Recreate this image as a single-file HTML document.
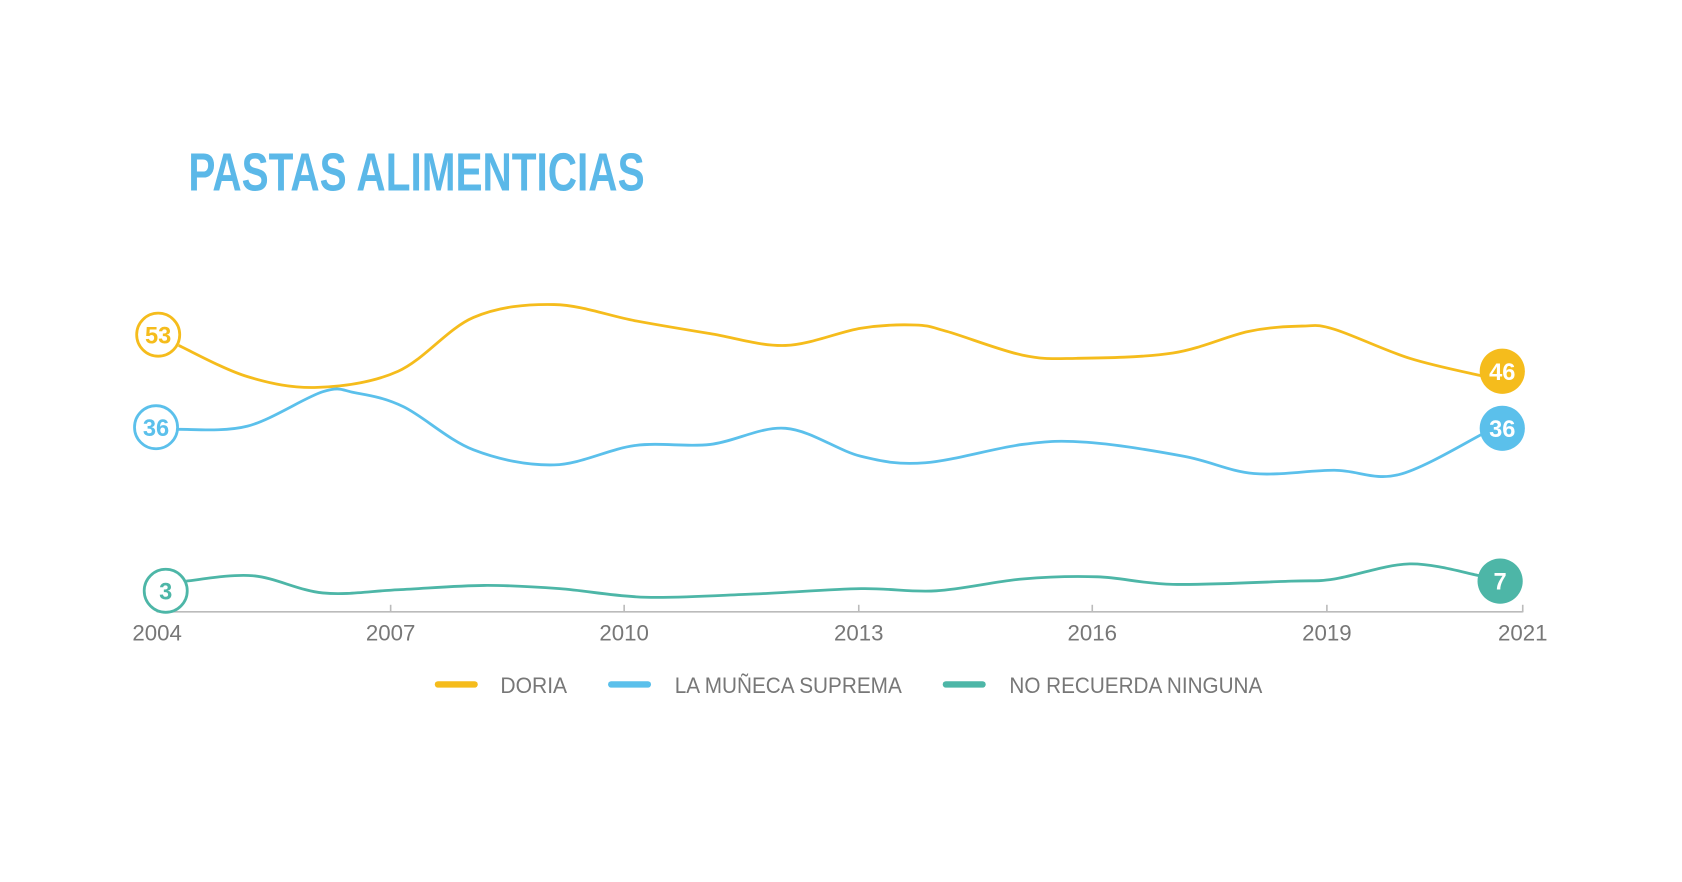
<!DOCTYPE html>
<html><head><meta charset="utf-8"><style>
html,body{margin:0;padding:0;background:#fff;}
svg{display:block;}
text{font-family:"Liberation Sans Narrow","Liberation Sans",sans-serif;}
</style></head><body>
<svg id="s" width="1682" height="882" viewBox="0 0 1563 819.6" xmlns="http://www.w3.org/2000/svg">
<text x="175" y="177" font-size="50" font-weight="bold" fill="#5BB8E8" textLength="424" lengthAdjust="spacingAndGlyphs">PASTAS ALIMENTICIAS</text>
<path id="pY" fill="none" stroke="#F5BC1C" stroke-width="2.6"/>
<path id="pB" fill="none" stroke="#5BC0EB" stroke-width="2.6"/>
<path id="pT" fill="none" stroke="#4DB6A7" stroke-width="2.6"/>
<line x1="146" y1="568.5" x2="1415" y2="568.5" stroke="#bbb" stroke-width="1.5"/>
<g stroke="#bbb" stroke-width="1.5">
<line x1="146" y1="562" x2="146" y2="569"/><line x1="363" y1="562" x2="363" y2="569"/><line x1="580" y1="562" x2="580" y2="569"/><line x1="798" y1="562" x2="798" y2="569"/><line x1="1015" y1="562" x2="1015" y2="569"/><line x1="1233" y1="562" x2="1233" y2="569"/><line x1="1415" y1="562" x2="1415" y2="569"/>
</g>
<g font-size="21" fill="#777" text-anchor="middle">
<text x="146" y="595" textLength="46" lengthAdjust="spacingAndGlyphs">2004</text>
<text x="363" y="595" textLength="46" lengthAdjust="spacingAndGlyphs">2007</text>
<text x="580" y="595" textLength="46" lengthAdjust="spacingAndGlyphs">2010</text>
<text x="798" y="595" textLength="46" lengthAdjust="spacingAndGlyphs">2013</text>
<text x="1015" y="595" textLength="46" lengthAdjust="spacingAndGlyphs">2016</text>
<text x="1233" y="595" textLength="46" lengthAdjust="spacingAndGlyphs">2019</text>
<text x="1415" y="595" textLength="46" lengthAdjust="spacingAndGlyphs">2021</text>
</g>
<!-- start circles -->
<circle cx="147" cy="311" r="20" fill="#fff" stroke="#F5BC1C" stroke-width="2.6"/>
<text x="147" y="319" font-size="22" font-weight="bold" fill="#F5BC1C" text-anchor="middle">53</text>
<circle cx="145" cy="397" r="20" fill="#fff" stroke="#5BC0EB" stroke-width="2.6"/>
<text x="145" y="405" font-size="22" font-weight="bold" fill="#5BC0EB" text-anchor="middle">36</text>
<circle cx="154" cy="549" r="20" fill="#fff" stroke="#4DB6A7" stroke-width="2.6"/>
<text x="154" y="557" font-size="22" font-weight="bold" fill="#4DB6A7" text-anchor="middle">3</text>
<!-- end circles -->
<circle cx="1396" cy="345" r="21" fill="#F5BC1C"/>
<text x="1396" y="353" font-size="22" font-weight="bold" fill="#fff" text-anchor="middle">46</text>
<circle cx="1396" cy="398" r="21" fill="#5BC0EB"/>
<text x="1396" y="406" font-size="22" font-weight="bold" fill="#fff" text-anchor="middle">36</text>
<circle cx="1394" cy="540" r="21" fill="#4DB6A7"/>
<text x="1394" y="548" font-size="22" font-weight="bold" fill="#fff" text-anchor="middle">7</text>
<!-- legend -->
<line x1="407" y1="636" x2="441" y2="636" stroke="#F5BC1C" stroke-width="6" stroke-linecap="round"/>
<line x1="568" y1="636" x2="602" y2="636" stroke="#5BC0EB" stroke-width="6" stroke-linecap="round"/>
<line x1="879" y1="636" x2="913" y2="636" stroke="#4DB6A7" stroke-width="6" stroke-linecap="round"/>
<g font-size="21" fill="#777">
<text x="465" y="644" textLength="62" lengthAdjust="spacingAndGlyphs">DORIA</text>
<text x="627" y="644" textLength="211" lengthAdjust="spacingAndGlyphs">LA MUÑECA SUPREMA</text>
<text x="938" y="644" textLength="235" lengthAdjust="spacingAndGlyphs">NO RECUERDA NINGUNA</text>
</g>
</svg>
<script>
function cr(p){var d="M"+p[0][0]+","+p[0][1];for(var i=0;i<p.length-1;i++){var a=p[i-1]||p[i],b=p[i],c=p[i+1],e=p[i+2]||c;d+=" C"+(b[0]+(c[0]-a[0])/6)+","+(b[1]+(c[1]-a[1])/6)+" "+(c[0]-(e[0]-b[0])/6)+","+(c[1]-(e[1]-b[1])/6)+" "+c[0]+","+c[1];}return d;}
document.getElementById("pY").setAttribute("d",cr([[166,321],[230,350],[295,360],[370,345],[440,295],[515,283],[590,298],[660,310],[730,321],[800,305],[850,302],[880,308],[950,330],[1000,333],[1090,328],[1160,308],[1210,303],[1240,306],[1310,333],[1380,350]]));
document.getElementById("pB").setAttribute("d",cr([[165,399],[230,396],[300,364],[330,365],[375,378],[440,418],[515,432],[590,414],[660,413],[730,398],[800,424],[860,430],[950,413],[1010,411],[1100,424],[1165,440],[1240,437],[1300,441],[1380,402]]));
document.getElementById("pT").setAttribute("d",cr([[173,540],[235,535],[300,551],[370,548],[450,544],[520,547],[600,555],[700,552],[800,547],[870,549],[950,538],[1020,536],[1090,543],[1200,540],[1240,538],[1310,524],[1375,535]]));
</script>
</body></html>
